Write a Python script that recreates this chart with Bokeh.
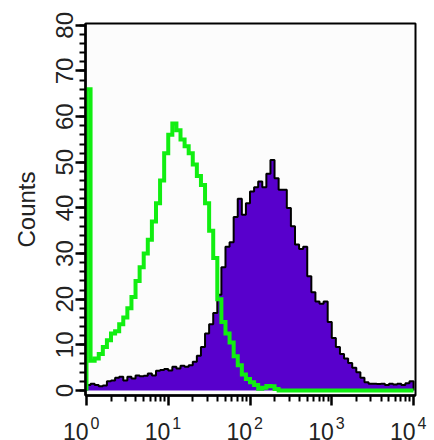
import numpy as np
from bokeh.plotting import figure
from bokeh.models import Range1d, FixedTicker, ColumnDataSource
from bokeh.layouts import column
from bokeh.embed import file_html
from bokeh.resources import INLINE

# histogram bins: log10 channel edges, 0.05 decade wide, 10^0 .. 10^4
log_step = 0.05
n_bins = 80
edges = 10 ** (log_step * np.arange(n_bins + 1))

# control (green outline) counts per bin
control_counts = [66, 6.5, 7, 8, 9.5, 11, 12.5, 13, 14.5, 16,
                  18, 20.5, 24, 27, 30, 33, 37, 41, 46, 52,
                  56, 58.5, 57, 55, 53.5, 52, 49.5, 47, 45, 41,
                  35, 29, 20, 15, 12.5, 10.5, 7.5, 5.5, 3.5, 2.5,
                  1.8, 1.2, 0.4, 0.6, 1, 0.9, 0.3, 0, 0, 0,
                  0, 0, 0, 0, 0, 0, 0, 0, 0, 0,
                  0, 0, 0, 0, 0, 0, 0, 0, 0, 0,
                  0, 0, 0, 0, 0, 0, 0, 0, 0, 0]

# stained sample (purple filled) counts per bin
sample_counts = [1.2, 1.5, 1.2, 0.9, 1.1, 2, 2.2, 2.8, 3, 2.2,
                 3, 2.6, 3.3, 3.1, 3.2, 3.7, 3.3, 4.3, 4.5, 4.7,
                 4.4, 5.2, 4.8, 5.4, 5.2, 5.5, 6.3, 7.6, 9.5, 12.5,
                 14.5, 17, 21, 27, 31.5, 32.5, 38, 42, 38.5, 41,
                 43.6, 44.5, 45.8, 44.5, 47.5, 50.5, 46.5, 44, 44, 40,
                 36, 32, 31, 31.5, 25, 21.5, 19.5, 19, 19.5, 15,
                 11.5, 9.5, 8, 7, 6, 5, 4, 2.8, 1.8, 1.5,
                 1.5, 1.4, 1.5, 1.2, 1.5, 1.3, 1.5, 1.2, 1.6, 2]

x_ticks = [1, 10, 100, 1000, 10000]
x_tick_base = ["10", "10", "10", "10", "10"]
x_tick_exponents = ["0", "1", "2", "3", "4"]
y_ticks = [0, 10, 20, 30, 40, 50, 60, 70, 80]
y_label = "Counts"

# layout constants (pixels)
W = 430
FRAME_L, FRAME_R = 85, 415
LOG_LO, LOG_HI = -0.012, 4.024
Y0, Y1 = -1.1, 80.4
TOP_H = 409
LABEL_H = 31


def step_outline(counts):
    c = np.asarray(counts, dtype=float)
    xs = np.concatenate([[edges[0]], np.repeat(edges, 2)[1:-1], [edges[-1]]])
    ys = np.concatenate([[0.0], np.repeat(c, 2), [0.0]])
    return xs, ys


p = figure(width=W, height=TOP_H, x_axis_type="log",
           x_range=Range1d(10 ** LOG_LO, 10 ** LOG_HI),
           y_range=Range1d(Y0, Y1),
           output_backend="svg", toolbar_location=None,
           min_border_left=FRAME_L, min_border_top=23,
           min_border_right=W - FRAME_R, min_border_bottom=12)

p.background_fill_color = "#fcfcfc"
p.border_fill_color = "white"
p.outline_line_color = "black"
p.outline_line_width = 2
p.grid.visible = False

sx, sy = step_outline(sample_counts)
p.patch(sx, sy, fill_color="#5800cc", line_color=None)
p.line(sx, sy, line_color="black", line_width=2)

cx, cy = step_outline(control_counts)
p.line(cx, cy, line_color="#11ee11", line_width=4, line_join="miter")

# axes
minor_x = [m * 10 ** d for d in range(4) for m in range(2, 10)]
p.xaxis.ticker = FixedTicker(ticks=x_ticks, minor_ticks=minor_x)
p.xaxis.major_label_overrides = {t: " " for t in x_ticks}
p.xaxis.major_label_text_font_size = "1px"
p.xaxis.major_label_standoff = 0
p.yaxis.ticker = FixedTicker(ticks=y_ticks, minor_ticks=list(range(0, 81, 2)))
p.yaxis.major_label_orientation = "vertical"
p.yaxis.axis_label = y_label

for ax in (p.xaxis[0], p.yaxis[0]):
    ax.axis_line_width = 2.5
    ax.axis_line_color = "black"
    ax.major_tick_line_width = 2.5
    ax.minor_tick_line_width = 2
    ax.major_tick_line_color = "black"
    ax.minor_tick_line_color = "black"
    ax.major_tick_out = 10
    ax.major_tick_in = 0
    ax.minor_tick_out = 6
    ax.minor_tick_in = 0
    ax.major_label_text_font = "Liberation Sans"
    ax.major_label_text_color = "#222222"

p.yaxis.major_label_standoff = 2
p.yaxis.major_label_text_font_size = "24px"
p.yaxis.axis_label_text_font = "Liberation Sans"
p.yaxis.axis_label_text_font_size = "24px"
p.yaxis.axis_label_text_font_style = "normal"
p.yaxis.axis_label_text_color = "#222222"
p.yaxis.axis_label_standoff = 14

# strip below the plot holding the x tick labels "10" with raised exponents,
# on the same log scale as the main plot (its frame spans the full width)
px_per_decade = (FRAME_R - FRAME_L) / (LOG_HI - LOG_LO)
q_lo = LOG_LO - FRAME_L / px_per_decade
q_hi = LOG_HI + (W - FRAME_R) / px_per_decade
q = figure(width=W, height=LABEL_H, x_axis_type="log",
           x_range=Range1d(10 ** q_lo, 10 ** q_hi), y_range=Range1d(0, 1),
           x_axis_location=None, y_axis_location=None,
           output_backend="svg", toolbar_location=None,
           min_border_left=0, min_border_right=0,
           min_border_top=0, min_border_bottom=0)
q.background_fill_color = "white"
q.border_fill_color = "white"
q.outline_line_color = None
q.grid.visible = False
for fig in (p, q):
    if "frame_align" in fig.properties():
        fig.frame_align = False

src = ColumnDataSource(dict(x=x_ticks, y=[1] * len(x_ticks),
                            base=x_tick_base, exp=x_tick_exponents))
q.text(x="x", y="y", text="base", source=src, x_offset=2, y_offset=22,
       text_align="right", text_baseline="alphabetic",
       text_font={"value": "Liberation Sans"}, text_font_size="23px",
       text_color="#222222")
q.text(x="x", y="y", text="exp", source=src, x_offset=4, y_offset=13,
       text_align="left", text_baseline="alphabetic",
       text_font={"value": "Liberation Sans"}, text_font_size="16px",
       text_color="#222222")

layout = column(p, q, spacing=0)
open("out.html", "w").write(file_html(layout, INLINE))
